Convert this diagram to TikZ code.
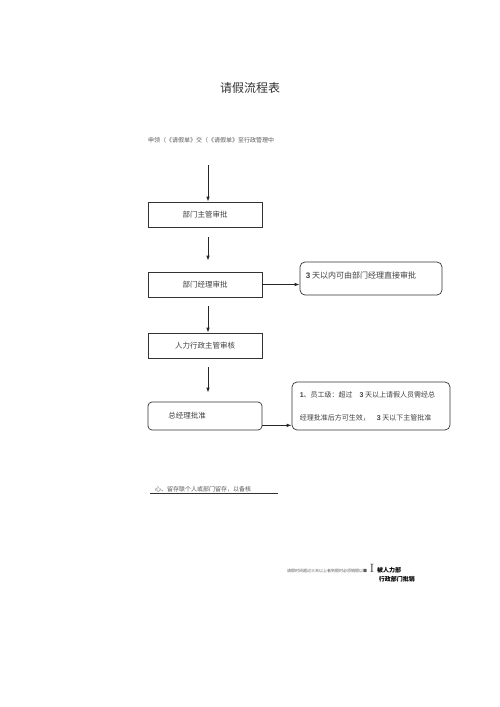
\documentclass[tikz,border=0pt]{standalone}
\usepackage{fontspec}
\newfontfamily\cjk{Noto Sans CJK SC}
\usetikzlibrary{arrows.meta,calc}
\tikzset{
  boxstyle/.style={draw=black!80, line width=0.7pt, minimum width=114pt, minimum height=25pt, inner sep=0pt, font=\cjk\fontsize{7.5}{9}\selectfont, text=black!75},
  notebox/.style={draw=black!80, line width=0.7pt, rounded corners=5pt, inner sep=0pt},
  notetext/.style={font=\cjk\fontsize{7}{9}\selectfont, text=black!75, inner sep=0pt, anchor=west},
  flowarrow/.style={draw=black!85, line width=0.8pt, -{Latex[length=5pt,width=3.5pt]}},
  smalltext/.style={font=\cjk\fontsize{6}{7}\selectfont, text=black!65, inner sep=0pt}
}
\begin{document}
\begin{tikzpicture}[x=1pt,y=-1pt]
\fill[white] (0,0) rectangle (500,707);
\useasboundingbox (0,0) rectangle (500,707);

\node[font=\cjk\fontsize{12}{14}\selectfont, text=black!80] (title) at (250,88) {请假流程表};
\node[smalltext, anchor=west] (intro) at (148,140) {申领（《请假单》交（《请假单》至行政管理中};

\coordinate (s1) at (208,165);
\node[boxstyle] (b1) at (205,214.5) {部门主管审批};
\node[boxstyle] (b2) at (205,284.5) {部门经理审批};
\node[boxstyle] (b4) at (205,345.5) {人力行政主管审核};
\node[boxstyle, rounded corners=4pt, minimum height=28pt] (b5) at (205,416) {\hspace*{-36pt}总经理批准};

\node[notebox, minimum width=142pt, minimum height=33pt] (b3) at (371,278.5) {};
\node[notetext] (t3) at ($(b3.north west)+(6,14)$) {\fontsize{8}{9}\selectfont{\fontspec{Liberation Sans}\bfseries 3} 天以内可由部门经理直接审批};

\node[notebox, minimum width=158pt, minimum height=48pt] (b6) at (371,406) {};
\node[notetext] (t6a) at ($(b6.north west)+(8,13)$) {{\fontspec{Liberation Sans}\bfseries 1}、员工级：超过\quad{\fontspec{Liberation Sans}\bfseries 3} 天以上请假人员需经总};
\node[notetext] (t6b) at ($(b6.north west)+(8,36)$) {经理批准后方可生效，\quad{\fontspec{Liberation Sans}\bfseries 3} 天以下主管批准};

\draw[flowarrow] (s1) -- (b1.north -| s1);
\draw[flowarrow] ($(b1.south -| s1)+(0,10)$) -- ($(b2.north -| s1)+(0,-11)$);
\draw[flowarrow] ($(b2.south -| s1)+(0,9)$) -- (b4.north -| s1);
\draw[flowarrow] ($(b4.south -| s1)+(0,9)$) -- ($(b5.north -| s1)+(0,-9)$);
\draw[flowarrow] (b2.east) -- (b2.east -| b3.west);
\coordinate (c5) at ($(b5.south east)+(0,-5)$);
\draw[flowarrow] (c5) -- (c5 -| b6.west);

\node[smalltext, anchor=west] (note) at (155,489) {心、留存联个人或部门留存，以备核};
\draw[black!80, line width=0.7pt] (150,493) -- (278,493);

\node[smalltext, anchor=west, font=\cjk\fontsize{4}{5}\selectfont] (bt) at (287,571) {请假时间超过三天以上者到假时必须销假以■};
\node[inner sep=0pt, font=\fontsize{12}{13}\selectfont, text=black!80] (bi) at (372,568) {I};
\node[inner sep=0pt, anchor=west, font=\cjk\bfseries\fontsize{6}{7}\selectfont] (bb1) at (377,570) {被人力部};
\node[inner sep=0pt, anchor=east, font=\cjk\bfseries\fontsize{6}{7}\selectfont] (bb2) at (415,579) {行政部门批销};
\end{tikzpicture}
\end{document}
